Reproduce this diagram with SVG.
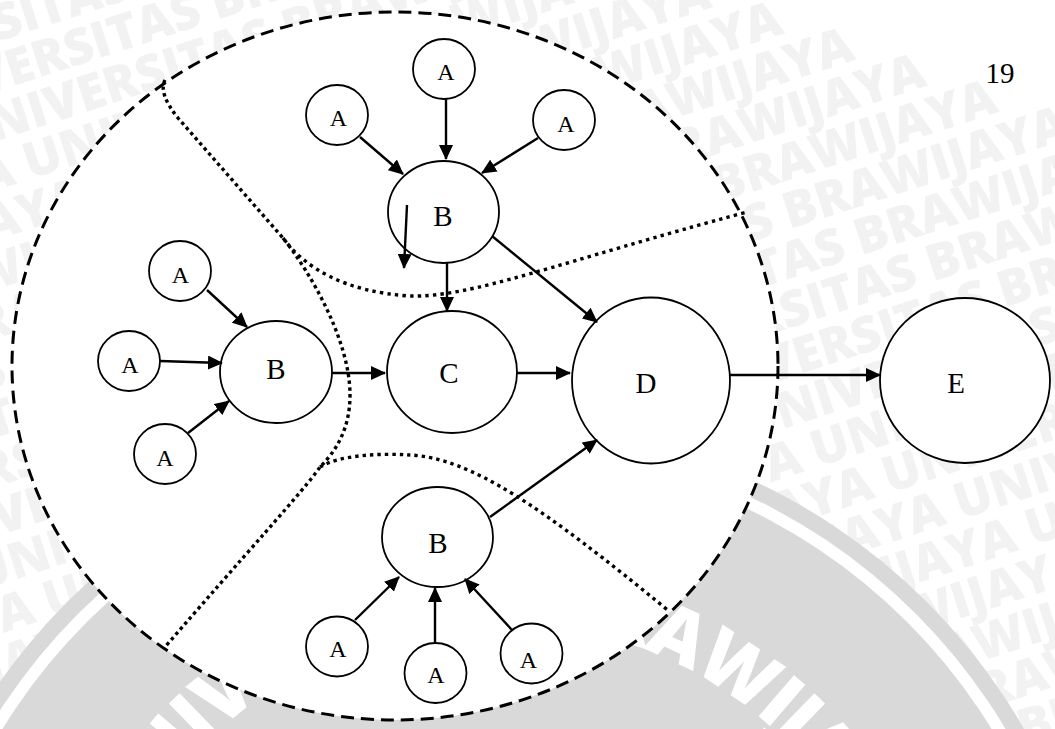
<svg xmlns="http://www.w3.org/2000/svg" width="1055" height="729" viewBox="0 0 1055 729">
  <defs>
    <style>
      .wm{font-family:"Open Sans","DejaVu Sans",sans-serif;font-weight:800;font-size:50px;fill:#f2f2f2}
      .seal{font-family:"Open Sans","DejaVu Sans",sans-serif;font-weight:800;font-size:76px;fill:#ffffff}
      .node ellipse{fill:#ffffff;stroke:#000000;stroke-width:1.8}
      .lbl{font-family:"Liberation Serif","Times New Roman",serif;fill:#000000;text-anchor:middle}
      .a{font-size:24px}
      .big{font-size:29px}
      .edge{stroke:#000000;stroke-width:2.4;fill:none;marker-end:url(#arr)}
      .sep{fill:none;stroke:#000000;stroke-width:3.4}
    </style>
    <marker id="arr" markerUnits="userSpaceOnUse" markerWidth="16" markerHeight="14" refX="14" refY="7" orient="auto">
      <path d="M0,0 L15,7 L0,14 Z" fill="#000000"/>
    </marker>
    <path id="sealArc" d="M87,1032 A410,410 0 0 1 907,1032"/>
  </defs>

  <rect width="1055" height="729" fill="#ffffff"/>

  <!-- background watermark rows -->
  <g id="watermark" transform="rotate(-18)">
    <text class="wm" x="-2833" y="39">UNIVERSITAS BRAWIJAYA UNIVERSITAS BRAWIJAYA UNIVERSITAS BRAWIJAYA UNIVERSITAS BRAWIJAYA UNIVERSITAS BRAWIJAYA</text>
    <text class="wm" x="-2773" y="86">UNIVERSITAS BRAWIJAYA UNIVERSITAS BRAWIJAYA UNIVERSITAS BRAWIJAYA UNIVERSITAS BRAWIJAYA UNIVERSITAS BRAWIJAYA</text>
    <text class="wm" x="-2713" y="133">UNIVERSITAS BRAWIJAYA UNIVERSITAS BRAWIJAYA UNIVERSITAS BRAWIJAYA UNIVERSITAS BRAWIJAYA UNIVERSITAS BRAWIJAYA</text>
    <text class="wm" x="-2653" y="180">UNIVERSITAS BRAWIJAYA UNIVERSITAS BRAWIJAYA UNIVERSITAS BRAWIJAYA UNIVERSITAS BRAWIJAYA UNIVERSITAS BRAWIJAYA</text>
    <text class="wm" x="-2593" y="227">UNIVERSITAS BRAWIJAYA UNIVERSITAS BRAWIJAYA UNIVERSITAS BRAWIJAYA UNIVERSITAS BRAWIJAYA UNIVERSITAS BRAWIJAYA</text>
    <text class="wm" x="-2533" y="274">UNIVERSITAS BRAWIJAYA UNIVERSITAS BRAWIJAYA UNIVERSITAS BRAWIJAYA UNIVERSITAS BRAWIJAYA UNIVERSITAS BRAWIJAYA</text>
    <text class="wm" x="-2473" y="321">UNIVERSITAS BRAWIJAYA UNIVERSITAS BRAWIJAYA UNIVERSITAS BRAWIJAYA UNIVERSITAS BRAWIJAYA UNIVERSITAS BRAWIJAYA</text>
    <text class="wm" x="-2413" y="368">UNIVERSITAS BRAWIJAYA UNIVERSITAS BRAWIJAYA UNIVERSITAS BRAWIJAYA UNIVERSITAS BRAWIJAYA UNIVERSITAS BRAWIJAYA</text>
    <text class="wm" x="-2353" y="415">UNIVERSITAS BRAWIJAYA UNIVERSITAS BRAWIJAYA UNIVERSITAS BRAWIJAYA UNIVERSITAS BRAWIJAYA UNIVERSITAS BRAWIJAYA</text>
    <text class="wm" x="-2293" y="462">UNIVERSITAS BRAWIJAYA UNIVERSITAS BRAWIJAYA UNIVERSITAS BRAWIJAYA UNIVERSITAS BRAWIJAYA UNIVERSITAS BRAWIJAYA</text>
    <text class="wm" x="-2233" y="509">UNIVERSITAS BRAWIJAYA UNIVERSITAS BRAWIJAYA UNIVERSITAS BRAWIJAYA UNIVERSITAS BRAWIJAYA UNIVERSITAS BRAWIJAYA</text>
    <text class="wm" x="-2173" y="556">UNIVERSITAS BRAWIJAYA UNIVERSITAS BRAWIJAYA UNIVERSITAS BRAWIJAYA UNIVERSITAS BRAWIJAYA UNIVERSITAS BRAWIJAYA</text>
    <text class="wm" x="-2113" y="603">UNIVERSITAS BRAWIJAYA UNIVERSITAS BRAWIJAYA UNIVERSITAS BRAWIJAYA UNIVERSITAS BRAWIJAYA UNIVERSITAS BRAWIJAYA</text>
    <text class="wm" x="-2053" y="650">UNIVERSITAS BRAWIJAYA UNIVERSITAS BRAWIJAYA UNIVERSITAS BRAWIJAYA UNIVERSITAS BRAWIJAYA UNIVERSITAS BRAWIJAYA</text>
    <text class="wm" x="-1993" y="697">UNIVERSITAS BRAWIJAYA UNIVERSITAS BRAWIJAYA UNIVERSITAS BRAWIJAYA UNIVERSITAS BRAWIJAYA UNIVERSITAS BRAWIJAYA</text>
    <text class="wm" x="-1933" y="744">UNIVERSITAS BRAWIJAYA UNIVERSITAS BRAWIJAYA UNIVERSITAS BRAWIJAYA UNIVERSITAS BRAWIJAYA UNIVERSITAS BRAWIJAYA</text>
    <text class="wm" x="-1873" y="791">UNIVERSITAS BRAWIJAYA UNIVERSITAS BRAWIJAYA UNIVERSITAS BRAWIJAYA UNIVERSITAS BRAWIJAYA UNIVERSITAS BRAWIJAYA</text>
    <text class="wm" x="-1813" y="838">UNIVERSITAS BRAWIJAYA UNIVERSITAS BRAWIJAYA UNIVERSITAS BRAWIJAYA UNIVERSITAS BRAWIJAYA UNIVERSITAS BRAWIJAYA</text>
    <text class="wm" x="-1753" y="885">UNIVERSITAS BRAWIJAYA UNIVERSITAS BRAWIJAYA UNIVERSITAS BRAWIJAYA UNIVERSITAS BRAWIJAYA UNIVERSITAS BRAWIJAYA</text>
    <text class="wm" x="-1693" y="932">UNIVERSITAS BRAWIJAYA UNIVERSITAS BRAWIJAYA UNIVERSITAS BRAWIJAYA UNIVERSITAS BRAWIJAYA UNIVERSITAS BRAWIJAYA</text>
    <text class="wm" x="-1633" y="979">UNIVERSITAS BRAWIJAYA UNIVERSITAS BRAWIJAYA UNIVERSITAS BRAWIJAYA UNIVERSITAS BRAWIJAYA UNIVERSITAS BRAWIJAYA</text>
    <text class="wm" x="-1573" y="1026">UNIVERSITAS BRAWIJAYA UNIVERSITAS BRAWIJAYA UNIVERSITAS BRAWIJAYA UNIVERSITAS BRAWIJAYA UNIVERSITAS BRAWIJAYA</text>
  </g>

  <!-- large seal behind the lower part -->
  <g id="seal">
    <circle cx="497" cy="1032" r="608" fill="#d9d9d9"/>
    <circle cx="497" cy="1032" r="592" fill="#ffffff"/>
    <circle cx="497" cy="1032" r="580" fill="#d9d9d9"/>
    <text class="seal"><textPath href="#sealArc" startOffset="200" textLength="925" lengthAdjust="spacing">UNIVERSITAS BRAWIJAYA</textPath></text>
  </g>

  <!-- dashed system boundary -->
  <ellipse id="boundary" cx="395" cy="366" rx="383" ry="354" fill="#ffffff" stroke="#000000" stroke-width="3" stroke-dasharray="13 7"/>

  <!-- dotted sub-area separators -->
  <g id="separators">
    <path class="sep" stroke-dasharray="3.4 3.4" d="M165,80 Q158,93 178,118 L283,238 C310,272 350,340 350,395 C350,430 335,452 320,467 C307,487 240,560 165,647"/>
    <path class="sep" stroke-dasharray="3.4 4.2" d="M283,238 C305,268 345,292 410,296 C470,298 560,262 747,212"/>
    <path class="sep" stroke-dasharray="3.4 4" d="M320,467 C340,455 380,453 410,455 C470,458 540,505 670,612"/>
  </g>

  <!-- upper branch -->
  <g id="a-top" class="node"><ellipse cx="444" cy="69" rx="31" ry="30"/><text class="lbl a" x="446" y="80">A</text></g>
  <g id="a-top-left" class="node"><ellipse cx="337" cy="115" rx="31" ry="30"/><text class="lbl a" x="338.5" y="126">A</text></g>
  <g id="a-top-right" class="node"><ellipse cx="564" cy="120" rx="31" ry="30"/><text class="lbl a" x="566" y="131.5">A</text></g>
  <g id="b-top" class="node"><ellipse cx="443.5" cy="212" rx="55.5" ry="51"/><text class="lbl big" x="443" y="226">B</text></g>

  <!-- left branch -->
  <g id="a-left-1" class="node"><ellipse cx="180" cy="271" rx="31" ry="30"/><text class="lbl a" x="180.5" y="283">A</text></g>
  <g id="a-left-2" class="node"><ellipse cx="129" cy="361" rx="31" ry="30"/><text class="lbl a" x="130" y="373">A</text></g>
  <g id="a-left-3" class="node"><ellipse cx="165" cy="454" rx="31" ry="30"/><text class="lbl a" x="165" y="466">A</text></g>
  <g id="b-left" class="node"><ellipse cx="276" cy="372" rx="56" ry="51"/><text class="lbl big" x="276" y="379">B</text></g>

  <!-- lower branch -->
  <g id="a-bottom-1" class="node"><ellipse cx="337" cy="646.5" rx="31" ry="30"/><text class="lbl a" x="338" y="656.5">A</text></g>
  <g id="a-bottom-2" class="node"><ellipse cx="435.5" cy="673" rx="31" ry="30"/><text class="lbl a" x="436" y="683">A</text></g>
  <g id="a-bottom-3" class="node"><ellipse cx="531.5" cy="653.5" rx="31" ry="30"/><text class="lbl a" x="528.5" y="668">A</text></g>
  <g id="b-bottom" class="node"><ellipse cx="437.5" cy="537" rx="55.5" ry="50"/><text class="lbl big" x="438" y="553">B</text></g>

  <!-- core chain -->
  <g id="c" class="node"><ellipse cx="452" cy="372" rx="65" ry="61"/><text class="lbl big" x="449" y="382.5">C</text></g>
  <g id="d" class="node"><ellipse cx="651" cy="380.5" rx="79" ry="83"/><text class="lbl big" x="646" y="393">D</text></g>
  <g id="e" class="node"><ellipse cx="965" cy="380.5" rx="85" ry="82.5"/><text class="lbl big" x="956" y="393">E</text></g>

  <!-- connectors (drawn over the nodes so the short arrow inside the upper B stays visible) -->
  <g id="connectors">
    <line class="edge" x1="446" y1="99" x2="446" y2="159"/>
    <line class="edge" x1="360" y1="137" x2="403" y2="174"/>
    <line class="edge" x1="538" y1="138" x2="482" y2="173"/>
    <line class="edge" x1="407" y1="205" x2="404" y2="268"/>
    <line class="edge" x1="447" y1="263" x2="447" y2="311"/>
    <line class="edge" x1="492" y1="236" x2="597" y2="322"/>
    <line class="edge" x1="517" y1="373" x2="570" y2="373"/>
    <line class="edge" x1="730" y1="375" x2="880" y2="375"/>
    <line class="edge" x1="207" y1="290" x2="247" y2="327"/>
    <line class="edge" x1="160" y1="361" x2="222" y2="363"/>
    <line class="edge" x1="188" y1="433" x2="229" y2="401"/>
    <line class="edge" x1="332" y1="373" x2="385" y2="373"/>
    <line class="edge" x1="355" y1="620" x2="399" y2="577"/>
    <line class="edge" x1="435" y1="643" x2="435" y2="588"/>
    <line class="edge" x1="512" y1="630" x2="465" y2="579"/>
    <line class="edge" x1="490" y1="517" x2="597" y2="440"/>
  </g>

  <text id="page-number" class="lbl" x="1000" y="83" font-size="29">19</text>
</svg>
